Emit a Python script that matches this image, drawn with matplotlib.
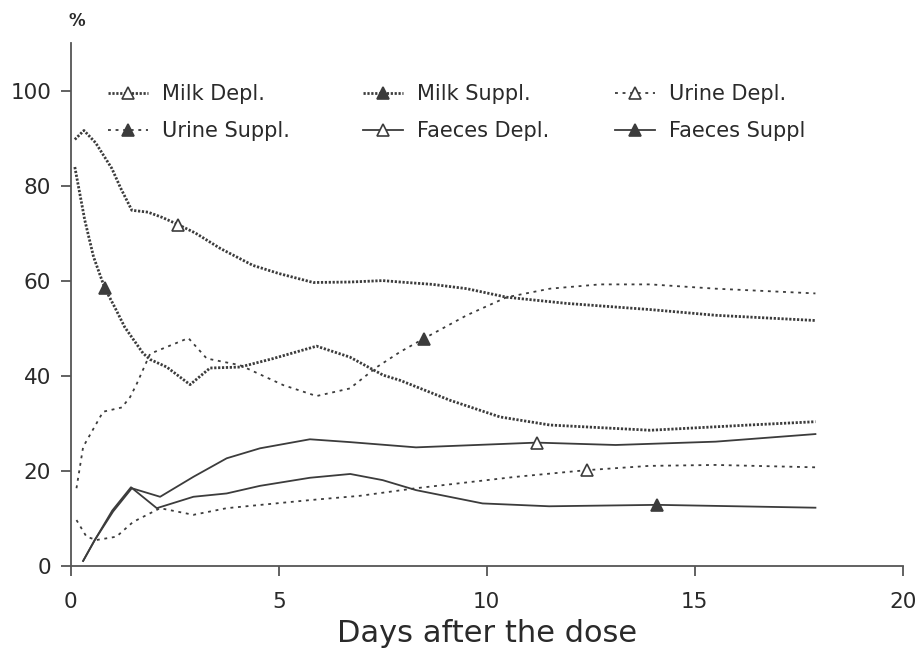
import matplotlib
matplotlib.use("Agg")
import matplotlib.pyplot as plt
from matplotlib.legend import Legend

# ---------------- data ----------------
milk_depl_x = [0.1, 0.32, 0.6, 0.99, 1.2, 1.47, 1.86, 2.2, 2.58, 3.0, 3.59, 4.38, 5.0, 5.83,
               6.72, 7.5, 7.92, 8.7, 9.52, 10.48, 11.92, 13.93, 15.5, 17.9]
milk_depl_y = [89.7, 91.6, 89.0, 83.6, 79.5, 74.8, 74.4, 73.3, 71.8, 70.0, 66.8, 63.2, 61.5, 59.6,
               59.7, 60.0, 59.7, 59.2, 58.3, 56.5, 55.2, 53.9, 52.7, 51.6]
milk_depl_mark = 8

milk_suppl_x = [0.1, 0.34, 0.55, 0.82, 1.06, 1.3, 1.74, 1.91, 2.31, 2.87, 3.35, 4.07, 4.87, 5.91,
                6.71, 7.51, 7.92, 9.12, 10.32, 11.52, 13.93, 16.3, 17.9]
milk_suppl_y = [83.9, 72.7, 65.0, 58.4, 54.4, 50.2, 44.7, 43.4, 41.8, 38.1, 41.6, 41.8, 43.6, 46.2,
                43.9, 40.1, 39.0, 34.8, 31.3, 29.6, 28.5, 29.6, 30.3]
milk_suppl_mark = 3

urine_depl_x = [0.14, 0.38, 0.62, 1.1, 1.5, 2.15, 2.95, 3.75, 5.75, 6.95, 8.3, 10.7, 12.4,
                13.9, 15.5, 17.9]
urine_depl_y = [9.6, 6.1, 5.4, 6.1, 9.2, 12.1, 10.7, 12.1, 13.8, 14.7, 16.3, 18.7, 20.1,
                21.0, 21.2, 20.7]
urine_depl_mark = 12

urine_suppl_x = [0.14, 0.3, 0.78, 1.23, 1.43, 1.59, 1.91, 2.83, 3.27, 4.07, 5.11, 5.91, 6.71,
                 7.36, 7.92, 8.49, 9.52, 10.48, 11.52, 12.72, 13.93, 15.5, 17.9]
urine_suppl_y = [16.3, 25.0, 32.4, 33.3, 35.5, 38.3, 44.6, 47.9, 43.6, 42.2, 38.0, 35.7, 37.3,
                 41.8, 45.0, 47.8, 52.7, 56.5, 58.3, 59.2, 59.2, 58.3, 57.3]
urine_suppl_mark = 15

faeces_depl_x = [0.3, 0.58, 1.02, 1.47, 2.15, 2.95, 3.75, 4.55, 5.75, 6.72, 8.3, 11.2, 13.1,
                 15.5, 17.9]
faeces_depl_y = [1.0, 5.4, 11.4, 16.3, 14.5, 18.7, 22.6, 24.7, 26.6, 26.0, 24.9, 25.9, 25.4,
                 26.1, 27.7]
faeces_depl_mark = 11

faeces_suppl_x = [0.3, 0.58, 1.0, 1.45, 2.07, 2.95, 3.75, 4.55, 5.75, 6.72, 7.5, 8.3, 9.9,
                  11.5, 14.1, 17.9]
faeces_suppl_y = [1.0, 5.4, 11.6, 16.5, 12.1, 14.5, 15.2, 16.8, 18.5, 19.3, 18.0, 15.9, 13.1,
                  12.5, 12.8, 12.2]
faeces_suppl_mark = 14

x_ticks = [0, 5, 10, 15, 20]
y_ticks = [0, 20, 40, 60, 80, 100]

# ---------------- figure ----------------
plt.rcParams['font.family'] = ['DejaVu Sans']
fig = plt.figure(figsize=(9.2, 6.49), dpi=100)
ax = fig.add_axes([0.0768, 0.1284, 0.9045, 0.8053])

ink = '#3c3c3c'
txt = '#2a2a2a'
milk_ls = (0, (0.8, 0.6))
urine_ls = (0, (1.6, 2.6))

common_mk = dict(marker='^', markersize=9, markeredgewidth=1.2, markeredgecolor=ink)

h1, = ax.plot(milk_depl_x, milk_depl_y, color=ink, lw=2.0, ls=milk_ls,
              markevery=[milk_depl_mark], markerfacecolor='white', label='Milk Depl.', **common_mk)
h2, = ax.plot(milk_suppl_x, milk_suppl_y, color=ink, lw=2.0, ls=milk_ls,
              markevery=[milk_suppl_mark], markerfacecolor=ink, label='Milk Suppl.', **common_mk)
h3, = ax.plot(urine_depl_x, urine_depl_y, color=ink, lw=1.3, ls=urine_ls,
              markevery=[urine_depl_mark], markerfacecolor='white', label='Urine Depl.', **common_mk)
h4, = ax.plot(urine_suppl_x, urine_suppl_y, color=ink, lw=1.3, ls=urine_ls,
              markevery=[urine_suppl_mark], markerfacecolor=ink, label='Urine Suppl.', **common_mk)
h5, = ax.plot(faeces_depl_x, faeces_depl_y, color=ink, lw=1.3, ls='-',
              markevery=[faeces_depl_mark], markerfacecolor='white', label='Faeces Depl.', **common_mk)
h6, = ax.plot(faeces_suppl_x, faeces_suppl_y, color=ink, lw=1.3, ls='-',
              markevery=[faeces_suppl_mark], markerfacecolor=ink, label='Faeces Suppl', **common_mk)

ax.set_xlim(0, 20)
ax.set_ylim(0, 110)
ax.set_xticks(x_ticks)
ax.set_yticks(y_ticks)
ax.spines['top'].set_visible(False)
ax.spines['right'].set_visible(False)
for s in ('left', 'bottom'):
    ax.spines[s].set_color('#555555')
    ax.spines[s].set_linewidth(1.3)
ax.tick_params(axis='both', direction='out', length=7, width=1.3, color='#555555',
               labelsize=15.5, labelcolor=txt)
ax.tick_params(axis='x', pad=12)
ax.tick_params(axis='y', pad=7)
ax.set_xlabel('Days after the dose', fontsize=22, color=txt, labelpad=5)

fig.text(77 / 920, 1 - 21 / 649, '%', fontsize=12, fontweight='bold', color=txt,
         ha='center', va='center')

# legend: three columns placed individually (row-major order as in the original)
columns = [([h1, h4], 108), ([h2, h5], 363), ([h3, h6], 615)]
for hs, left_px in columns:
    leg = Legend(ax, hs, [h.get_label() for h in hs], loc='upper left',
                 bbox_to_anchor=(left_px / 920, 1 - 84 / 649), bbox_transform=fig.transFigure,
                 frameon=False, fontsize=15, handlelength=1.9, handletextpad=0.7,
                 labelspacing=0.83, numpoints=1, borderaxespad=0, borderpad=0)
    for t in leg.get_texts():
        t.set_color(txt)
    ax.add_artist(leg)

fig.savefig('out.png', dpi=100)
